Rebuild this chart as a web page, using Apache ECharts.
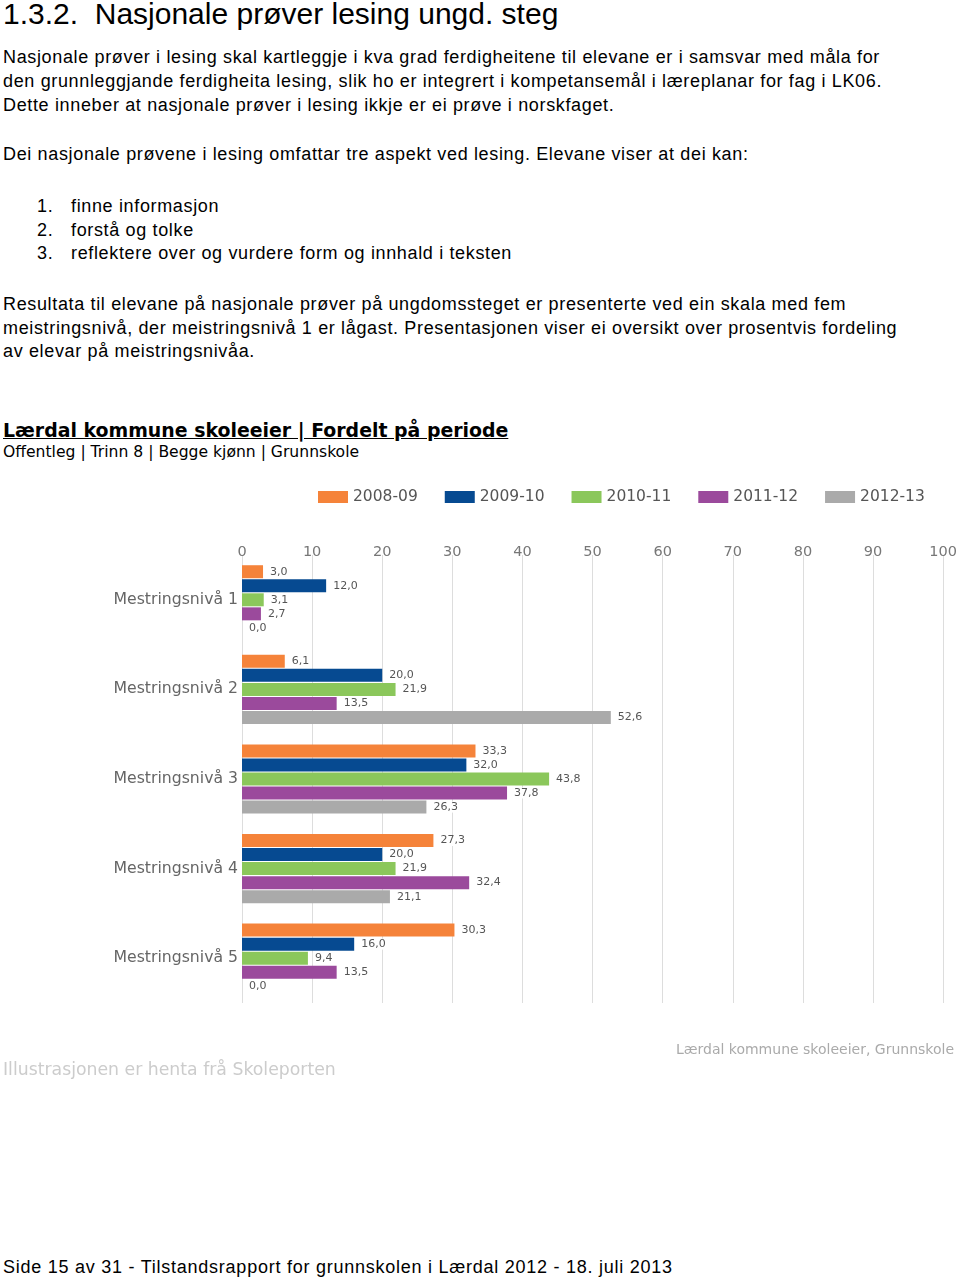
<!DOCTYPE html>
<html>
<head>
<meta charset="utf-8">
<title>Nasjonale prøver lesing ungd. steg</title>
<script src="https://cdn.jsdelivr.net/npm/echarts@6/dist/echarts.min.js"></script>
<style>
    body { margin: 0; width: 960px; height: 1279px; position: relative; background: #fff; font-family: "Liberation Sans", Arial, sans-serif; color: #000; overflow: hidden; }
    .t { position: absolute; left: 3px; white-space: nowrap; font-size: 18px; letter-spacing: 0.65px; line-height: 24px; }
    .h1 { font-size: 30px; letter-spacing: 0; line-height: 30px; top: -1px; }
    .num { left: 37px; }
    .li { left: 71px; }
    .hd { font-family: "DejaVu Sans", Verdana, sans-serif; font-weight: bold; font-size: 18.9px; letter-spacing: 0; text-decoration: underline; top: 418px; }
    .sub { font-family: "DejaVu Sans", Verdana, sans-serif; font-size: 15.6px; letter-spacing: 0; top: 440px; }
    .foot { letter-spacing: 0.75px; top: 1255px; }
    #main { position: absolute; left: 0; top: 470px; width: 960px; height: 620px; }
</style>
</head>
<body>
<div class="t h1">1.3.2.&nbsp;&nbsp;Nasjonale prøver lesing ungd. steg</div>
<div class="t" style="top:45px">Nasjonale prøver i lesing skal kartleggje i kva grad ferdigheitene til elevane er i samsvar med måla for</div>
<div class="t" style="top:69px">den grunnleggjande ferdigheita lesing, slik ho er integrert i kompetansemål i læreplanar for fag i LK06.</div>
<div class="t" style="top:93px">Dette inneber at nasjonale prøver i lesing ikkje er ei prøve i norskfaget.</div>
<div class="t" style="top:142px">Dei nasjonale prøvene i lesing omfattar tre aspekt ved lesing. Elevane viser at dei kan:</div>
<div class="t num" style="top:194px">1.</div><div class="t li" style="top:194px">finne informasjon</div>
<div class="t num" style="top:218px">2.</div><div class="t li" style="top:218px">forstå og tolke</div>
<div class="t num" style="top:241px">3.</div><div class="t li" style="top:241px">reflektere over og vurdere form og innhald i teksten</div>
<div class="t" style="top:292px">Resultata til elevane på nasjonale prøver på ungdomssteget er presenterte ved ein skala med fem</div>
<div class="t" style="top:316px">meistringsnivå, der meistringsnivå 1 er lågast. Presentasjonen viser ei oversikt over prosentvis fordeling</div>
<div class="t" style="top:339px">av elevar på meistringsnivåa.</div>
<div class="t hd">Lærdal kommune skoleeier | Fordelt på periode</div>
<div class="t sub">Offentleg | Trinn 8 | Begge kjønn | Grunnskole</div>
<div id="main"></div>
<div class="t foot">Side 15 av 31 - Tilstandsrapport for grunnskolen i Lærdal 2012 - 18. juli 2013</div>
<script>
var levels = ['Mestringsnivå 1', 'Mestringsnivå 2', 'Mestringsnivå 3', 'Mestringsnivå 4', 'Mestringsnivå 5'];
var periods = ['2008-09', '2009-10', '2010-11', '2011-12', '2012-13'];
var colors = ['#F5833A', '#064A91', '#8BC75B', '#9B4A9C', '#AAAAAA'];
var v0809 = [3.0, 6.1, 33.3, 27.3, 30.3];
var v0910 = [12.0, 20.0, 32.0, 20.0, 16.0];
var v1011 = [3.1, 21.9, 43.8, 21.9, 9.4];
var v1112 = [2.7, 13.5, 37.8, 32.4, 13.5];
var v1213 = [0.0, 52.6, 26.3, 21.1, 0.0];
var values = [v0809, v0910, v1011, v1112, v1213];

var series = periods.map(function (p, i) {
    return {
        name: p,
        type: 'bar',
        data: values[i],
        barWidth: 13,
        barGap: '8%',
        itemStyle: { color: colors[i] },
        label: {
            show: true,
            position: 'right',
            distance: 5,
            color: '#555',
            fontFamily: 'DejaVu Sans',
            fontSize: 11,
            backgroundColor: '#fff',
            padding: [0, 2],
            formatter: function (d) { return d.value.toFixed(1).replace('.', ','); }
        }
    };
});

var option = {
    animation: false,
    color: colors,
    legend: {
        data: periods,
        left: 313,
        top: 14,
        itemWidth: 30,
        itemHeight: 12,
        itemGap: 27,
        icon: 'rect',
        textStyle: { color: '#555', fontFamily: 'DejaVu Sans', fontSize: 15.5 }
    },
    grid: { left: 242, right: 16, top: 85, bottom: 87 },
    xAxis: {
        type: 'value',
        position: 'top',
        min: 0,
        max: 100,
        interval: 10,
        axisLine: { show: false },
        axisTick: { show: false },
        axisLabel: { color: '#777', fontFamily: 'DejaVu Sans', fontSize: 14.5, margin: -5 },
        splitLine: { lineStyle: { color: '#ddd' } }
    },
    yAxis: {
        type: 'category',
        data: levels,
        inverse: true,
        axisLine: { show: false },
        axisTick: { show: false },
        axisLabel: { color: '#666', fontFamily: 'DejaVu Sans', fontSize: 15.7, margin: 4 }
    },
    graphic: [
        { type: 'text', right: 6, top: 573, style: { text: 'Lærdal kommune skoleeier, Grunnskole', fill: '#aaa', font: '14px "DejaVu Sans"' } },
        { type: 'text', left: 3, top: 592, style: { text: 'Illustrasjonen er henta frå Skoleporten', fill: '#ccc', font: '17.3px "DejaVu Sans"' } }
    ],
    series: series
};

var myChart = echarts.init(document.getElementById('main'));
myChart.setOption(option);
</script>
</body>
</html>
